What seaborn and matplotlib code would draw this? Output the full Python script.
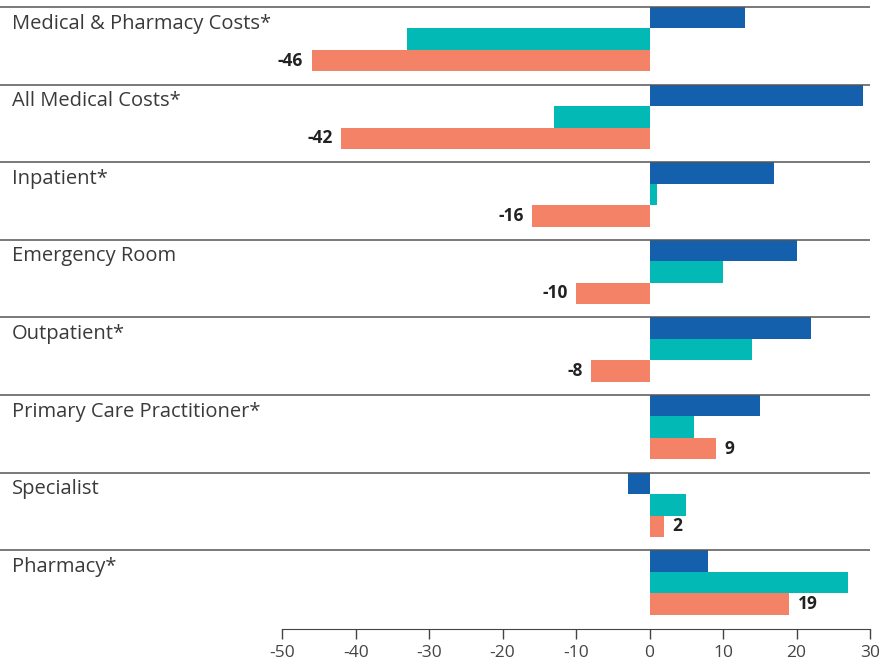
import pandas as pd
import seaborn as sns
import matplotlib.pyplot as plt
import matplotlib.transforms as mtransforms

categories = ['Medical & Pharmacy Costs*', 'All Medical Costs*', 'Inpatient*', 'Emergency Room',
              'Outpatient*', 'Primary Care Practitioner*', 'Specialist', 'Pharmacy*']
series_names = ['Series A', 'Series B', 'Series C']
series_a = [13, 29, 17, 20, 22, 15, -3, 8]
series_b = [-33, -13, 1, 10, 14, 6, 5, 27]
series_c = [-46, -42, -16, -10, -8, 9, 2, 19]
x_ticks = [-50, -40, -30, -20, -10, 0, 10, 20, 30]

palette = ["#1560AD", "#03B9B5", "#F38266"]

rows = []
for name, vals in zip(series_names, [series_a, series_b, series_c]):
    for cat, v in zip(categories, vals):
        rows.append({'category': cat, 'series': name, 'value': v})
df = pd.DataFrame(rows)

sns.set_style("white")
plt.rcParams['font.family'] = ['Open Sans', 'DejaVu Sans']

fig = plt.figure(figsize=(8.94, 6.66), dpi=100)
ax = fig.add_axes([0, 37 / 666, 870 / 894, 629 / 666])

sns.barplot(data=df, y='category', x='value', hue='series', order=categories,
            hue_order=series_names, palette=palette, orient='h', width=0.83,
            saturation=1, legend=False, linewidth=0, ax=ax)

ax.set_xlim(-88.4, 30)
ax.set_ylim(7.6, -0.505)

# separator lines at the top of each group
for i in range(len(categories)):
    ax.axhline(i - 0.415, color='#555555', lw=1.1, xmin=0, xmax=1, zorder=3)

# category labels, left aligned above bars
trans = mtransforms.blended_transform_factory(ax.transAxes, ax.transData)
for i, cat in enumerate(categories):
    ax.text(12 / 870, i - 0.2, cat, transform=trans, ha='left', va='center',
            fontsize=14.5, color='#3a3a3a')

# value labels on the third series only
ax.bar_label(ax.containers[2], fmt='%d', padding=6, fontsize=12.5,
             fontweight='bold', color='#222222')

ax.set_yticks([])
ax.set_ylabel('')
ax.set_xlabel('')
ax.set_xticks(x_ticks)
ax.set_xticklabels([str(t) for t in x_ticks], fontsize=12.5, color='#444444')
ax.tick_params(axis='x', bottom=True, direction='out', length=7.2, width=1,
               color='#444444', pad=4)

for side in ['top', 'right', 'left']:
    ax.spines[side].set_visible(False)
ax.spines['bottom'].set_bounds(-50, 30)
ax.spines['bottom'].set_color('#444444')

plt.savefig("out.png", dpi=100)
